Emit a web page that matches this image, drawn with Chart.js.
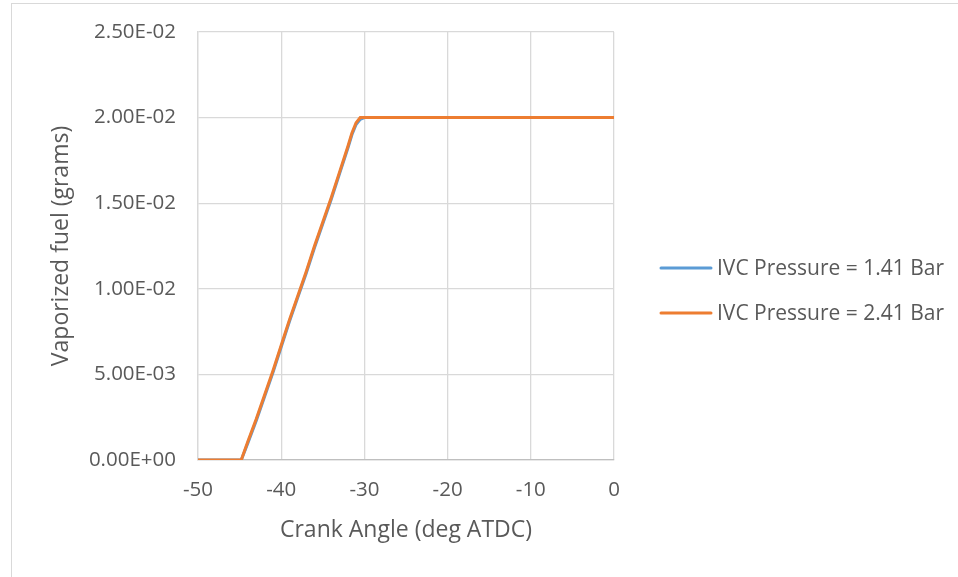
<!DOCTYPE html>
<html>
<head>
<meta charset="utf-8">
<script src="https://cdn.jsdelivr.net/npm/chart.js@4.4.1/dist/chart.umd.min.js"></script>
<style>
  html, body { margin: 0; padding: 0; background: #fff; overflow: hidden; }
  #wrap { position: relative; width: 958px; height: 577px; }
  #frame { position: absolute; left: 11px; top: 3px; width: 1200px; height: 1000px; border: 1px solid #d9d9d9; box-sizing: border-box; }
  #chart { position: absolute; left: 0; top: 0; }
</style>
</head>
<body>
<div id="wrap">
  <div id="frame"></div>
  <canvas id="chart" width="958" height="577"></canvas>
</div>
<script>
// Crank angle (deg ATDC) sample points shared by both runs
const crankAngle = [-50, -48, -46, -45, -44.8, -44, -43, -42, -41, -40, -39, -38, -37, -36, -35,
                    -34, -33, -32, -31.5, -31, -30.5, -30, -25, -20, -15, -10, -5, 0];

// Vaporized fuel mass (grams)
const fuelLowIVC = [0, 0, 0, 0, 0, 0.0010, 0.0023, 0.0037, 0.0051, 0.0066, 0.0081, 0.0095, 0.0109, 0.0124, 0.0138,
                    0.0152, 0.0167, 0.0182, 0.0190, 0.0196, 0.0199, 0.0200, 0.0200, 0.0200, 0.0200, 0.0200, 0.0200, 0.0200];
const fuelHighIVC = [0, 0, 0, 0, 0, 0.0011, 0.0024, 0.0038, 0.0052, 0.0067, 0.0082, 0.0096, 0.0110, 0.0125, 0.0139,
                     0.0153, 0.0168, 0.0183, 0.0191, 0.0197, 0.0200, 0.0200, 0.0200, 0.0200, 0.0200, 0.0200, 0.0200, 0.0200];

const seriesLabels = ['IVC Pressure = 1.41 Bar', 'IVC Pressure = 2.41 Bar'];
const seriesColors = ['#5b9bd5', '#ed7d31'];

const xTitle = 'Crank Angle (deg ATDC)';
const yTitle = 'Vaporized fuel (grams)';

const FONT = '"Open Sans", Lato, sans-serif';
const TEXT = '#595959';

function pairs(ys) {
  return crankAngle.map((x, i) => ({ x: x, y: ys[i] }));
}

// Excel-style scientific labels: 2.50E-02, 0.00E+00
function sci(v) {
  if (Math.abs(v) < 1e-12) return '0.00E+00';
  const s = v.toExponential(2).toUpperCase();
  const [m, e] = s.split('E');
  const sign = e[0] === '-' ? '-' : '+';
  const digits = e.replace(/[+-]/, '').padStart(2, '0');
  return m + 'E' + sign + digits;
}

// Legend drawn at the right side of the chart, one line sample per series
const sideLegend = {
  id: 'sideLegend',
  afterDraw(chart) {
    const ctx = chart.ctx;
    ctx.save();
    chart.data.datasets.forEach((ds, i) => {
      const y = 268 + i * 45;
      ctx.strokeStyle = ds.borderColor;
      ctx.lineWidth = 3;
      ctx.lineCap = 'round';
      ctx.beginPath();
      ctx.moveTo(661, y);
      ctx.lineTo(711, y);
      ctx.stroke();
      ctx.fillStyle = TEXT;
      ctx.font = '21px ' + FONT;
      ctx.textBaseline = 'middle';
      ctx.textAlign = 'left';
      ctx.fillText(ds.label, 717, y + 1);
    });
    ctx.restore();
  }
};

new Chart(document.getElementById('chart'), {
  type: 'line',
  data: {
    datasets: [
      { label: seriesLabels[0], data: pairs(fuelLowIVC), borderColor: seriesColors[0], backgroundColor: seriesColors[0],
        borderWidth: 3, pointRadius: 0, tension: 0, order: 2 },
      { label: seriesLabels[1], data: pairs(fuelHighIVC), borderColor: seriesColors[1], backgroundColor: seriesColors[1],
        borderWidth: 3, pointRadius: 0, tension: 0, order: 1 }
    ]
  },
  options: {
    responsive: false,
    animation: false,
    layout: { padding: { left: 0, right: 344, top: 32, bottom: 0 } },
    plugins: { legend: { display: false }, tooltip: { enabled: false } },
    scales: {
      x: {
        type: 'linear',
        min: -50, max: 0,
        ticks: { stepSize: 10, color: TEXT, font: { family: FONT, size: 20.5 }, padding: 18, maxRotation: 0 },
        grid: { color: '#d9d9d9', lineWidth: 1.3, drawTicks: false },
        border: { color: '#bfbfbf', width: 1.3 },
        title: { display: true, text: xTitle, color: TEXT, font: { family: FONT, size: 23 }, padding: { top: 0, bottom: 33 } },
        afterFit(scale) { scale.height = 117; }
      },
      y: {
        min: 0, max: 0.025,
        ticks: { stepSize: 0.005, color: TEXT, font: { family: FONT, size: 20.5 }, padding: 22, callback: v => sci(v) },
        grid: { color: '#d9d9d9', lineWidth: 1.3, drawTicks: false },
        border: { color: '#d9d9d9', width: 1.3 },
        title: { display: true, text: yTitle, color: TEXT, font: { family: FONT, size: 23 }, padding: { top: 48, bottom: 0 } },
        afterFit(scale) {
          scale.width = 198;
          scale.paddingTop = 0;
          scale.paddingBottom = 0;
        }
      }
    }
  },
  plugins: [sideLegend]
});
</script>
</body>
</html>
